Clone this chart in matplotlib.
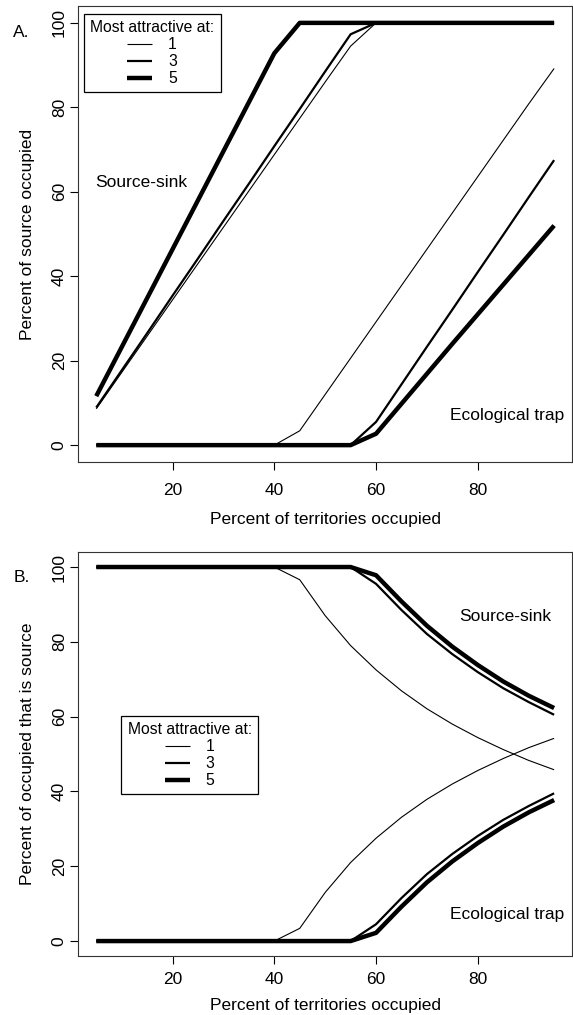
import matplotlib
matplotlib.use('Agg')
import matplotlib.pyplot as plt

plt.rcParams['font.family'] = ['Liberation Sans', 'DejaVu Sans']

# Percent of territories occupied
occupied = [5, 10, 15, 20, 25, 30, 35, 40, 45, 50, 55, 60, 65, 70, 75, 80, 85, 90, 95]

# Panel A: percent of source occupied
src_1 = [8.6, 17.2, 25.8, 34.4, 43.0, 51.6, 60.2, 68.8, 77.4, 86.0, 94.5, 100, 100, 100, 100, 100, 100, 100, 100]
src_3 = [8.9, 17.7, 26.5, 35.4, 44.2, 53.1, 61.9, 70.8, 79.6, 88.5, 97.3, 100, 100, 100, 100, 100, 100, 100, 100]
src_5 = [11.6, 23.2, 34.8, 46.4, 58.0, 69.6, 81.2, 92.8, 100, 100, 100, 100, 100, 100, 100, 100, 100, 100, 100]
trap_1 = [0, 0, 0, 0, 0, 0, 0, 0, 3.4, 12.0, 20.6, 29.2, 37.8, 46.4, 55.0, 63.6, 72.2, 80.8, 89.2]
trap_3 = [0, 0, 0, 0, 0, 0, 0, 0, 0, 0, 0, 5.5, 14.4, 23.3, 32.1, 41.0, 49.8, 58.7, 67.5]
trap_5 = [0, 0, 0, 0, 0, 0, 0, 0, 0, 0, 0, 2.7, 9.8, 16.9, 24.0, 31.0, 38.0, 45.0, 52.0]

# Panel B: percent of occupied that is source
bsrc_1 = [100, 100, 100, 100, 100, 100, 100, 100, 96.6, 87.0, 79.0, 72.5, 66.9, 62.1, 58.0, 54.4, 51.2, 48.3, 45.8]
bsrc_3 = [100, 100, 100, 100, 100, 100, 100, 100, 100, 100, 100, 95.5, 88.5, 82.1, 76.7, 71.9, 67.6, 63.9, 60.5]
bsrc_5 = [100, 100, 100, 100, 100, 100, 100, 100, 100, 100, 100, 97.8, 90.8, 84.3, 78.7, 73.8, 69.4, 65.6, 62.3]
btrap_1 = [0, 0, 0, 0, 0, 0, 0, 0, 3.4, 13.0, 21.0, 27.5, 33.1, 37.9, 42.0, 45.6, 48.8, 51.7, 54.2]
btrap_3 = [0, 0, 0, 0, 0, 0, 0, 0, 0, 0, 0, 4.5, 11.5, 17.9, 23.3, 28.1, 32.4, 36.1, 39.5]
btrap_5 = [0, 0, 0, 0, 0, 0, 0, 0, 0, 0, 0, 2.2, 9.2, 15.7, 21.3, 26.2, 30.6, 34.4, 37.7]

attract_labels = ['1', '3', '5']
widths = [0.8, 1.6, 3.2]

fig = plt.figure(figsize=(5.73, 10.15), dpi=100)
axA = fig.add_axes([0.136, 0.5448, 0.863, 0.4493])
axB = fig.add_axes([0.136, 0.0581, 0.863, 0.3980])

fs = 12.5


def style_axes(ax, ylabel, xpad, xlabelpad):
    ax.set_xlim(1.4, 98.6)
    ax.set_ylim(-4, 104)
    ax.set_xticks([20, 40, 60, 80])
    ax.set_yticks([0, 20, 40, 60, 80, 100])
    ax.tick_params(axis='x', length=6, width=0.8, pad=xpad, labelsize=fs)
    ax.tick_params(axis='y', length=6, width=0.8, pad=2, labelsize=fs, labelrotation=90)
    for lab in ax.get_yticklabels():
        lab.set_va('center')
    for sp in ax.spines.values():
        sp.set_linewidth(0.8)
        sp.set_color('#333333')
    ax.set_xlabel('Percent of territories occupied', fontsize=fs, labelpad=xlabelpad)
    ax.set_ylabel(ylabel, fontsize=fs, labelpad=12)


def add_legend(ax, anchor):
    leg = ax.legend(title='Most attractive at:', loc='upper left', bbox_to_anchor=anchor,
                    fontsize=11.3, title_fontsize=11.3, frameon=True, fancybox=False,
                    edgecolor='black', framealpha=1, handlelength=1.6, handletextpad=1.0,
                    handleheight=0.5, labelspacing=0.12, borderpad=0.4, borderaxespad=0)
    leg.get_frame().set_linewidth(0.9)
    return leg


# Panel A
for ys, lw in zip([src_1, src_3, src_5], widths):
    axA.plot(occupied, ys, color='black', lw=lw, solid_capstyle='butt')
for ys, lw, lab in zip([trap_1, trap_3, trap_5], widths, attract_labels):
    axA.plot(occupied, ys, color='black', lw=lw, solid_capstyle='butt', label=lab)
style_axes(axA, 'Percent of source occupied', 9, 10)
axA.text(4.8, 62.2, 'Source-sink', fontsize=fs, va='center', ha='left')
axA.text(97, 7.1, 'Ecological trap', fontsize=fs, va='center', ha='right')
add_legend(axA, (0.012, 0.982))
fig.text(0.023, 0.968, 'A.', fontsize=fs, va='center', ha='left')

# Panel B
for ys, lw in zip([bsrc_1, bsrc_3, bsrc_5], widths):
    axB.plot(occupied, ys, color='black', lw=lw, solid_capstyle='butt')
for ys, lw, lab in zip([btrap_1, btrap_3, btrap_5], widths, attract_labels):
    axB.plot(occupied, ys, color='black', lw=lw, solid_capstyle='butt', label=lab)
style_axes(axB, 'Percent of occupied that is source', 5.5, 8)
axB.text(94.5, 86.8, 'Source-sink', fontsize=fs, va='center', ha='right')
axB.text(97, 7.0, 'Ecological trap', fontsize=fs, va='center', ha='right')
add_legend(axB, (0.088, 0.594))
fig.text(0.023, 0.431, 'B.', fontsize=fs, va='center', ha='left')

fig.savefig('out.png', dpi=100)
